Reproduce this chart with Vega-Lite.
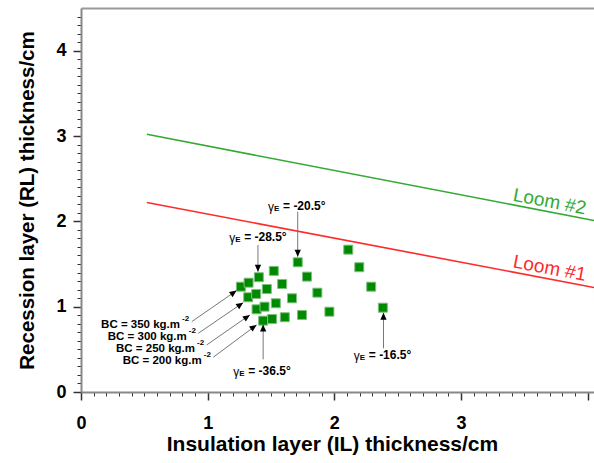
{
  "$schema": "https://vega.github.io/schema/vega-lite/v6.json",
  "width": 513,
  "height": 384,
  "autosize": {"type": "none"},
  "padding": {"left": 81, "top": 8, "right": 0, "bottom": 71},
  "background": "white",
  "config": {
    "view": {"stroke": null},
    "font": "Liberation Sans",
    "axis": {"grid": false, "labelFont": "Liberation Sans", "titleFont": "Liberation Sans"}
  },
  "resolve": {"axis": {"x": "independent", "y": "independent"}},
  "layer": [
    {
      "data": {"values": [
        {"loom": "Loom #1", "x": 0.52, "y": 2.22},
        {"loom": "Loom #1", "x": 4.05, "y": 1.225},
        {"loom": "Loom #2", "x": 0.52, "y": 3.02},
        {"loom": "Loom #2", "x": 4.05, "y": 2.01}
      ]},
      "mark": {"type": "line", "strokeWidth": 1.6},
      "encoding": {
        "x": {"field": "x", "type": "quantitative", "scale": {"domain": [0, 4.05], "nice": false, "zero": false},
          "axis": {"orient": "bottom",
            "values": [0,0.1,0.2,0.3,0.4,0.5,0.6,0.7,0.8,0.9,1,1.1,1.2,1.3,1.4,1.5,1.6,1.7,1.8,1.9,2,2.1,2.2,2.3,2.4,2.5,2.6,2.7,2.8,2.9,3,3.1,3.2,3.3,3.4,3.5,3.6,3.7,3.8,3.9,4],
            "labelExpr": "abs(datum.value - round(datum.value)) < 0.001 && datum.value < 3.5 ? format(datum.value, 'd') : ''",
            "title": "Insulation layer (IL) thickness/cm",
            "labelFontSize": 18, "labelFontWeight": "bold", "labelColor": "black", "labelPadding": 14, "labelFlush": false, "labelOverlap": false,
            "tickSize": {"condition": {"test": "abs(datum.value - round(datum.value)) < 0.001", "value": 8}, "value": 4},
            "tickWidth": {"condition": {"test": "abs(datum.value - round(datum.value)) < 0.001", "value": 1.5}, "value": 1},
            "tickColor": "#333", "domainColor": "#888", "domainWidth": 2,
            "titleFontSize": 21, "titleFontWeight": "bold", "titleColor": "black", "titlePadding": 1, "titleX": 251}},
        "y": {"field": "y", "type": "quantitative", "scale": {"domain": [0, 4.5], "nice": false, "zero": false},
          "axis": {"orient": "left",
            "values": [0,0.1,0.2,0.3,0.4,0.5,0.6,0.7,0.8,0.9,1,1.1,1.2,1.3,1.4,1.5,1.6,1.7,1.8,1.9,2,2.1,2.2,2.3,2.4,2.5,2.6,2.7,2.8,2.9,3,3.1,3.2,3.3,3.4,3.5,3.6,3.7,3.8,3.9,4,4.1,4.2,4.3,4.4],
            "labelExpr": "abs(datum.value - round(datum.value)) < 0.001 ? format(datum.value, 'd') : ''",
            "title": "Recession layer (RL) thickness/cm",
            "labelFontSize": 18, "labelFontWeight": "bold", "labelColor": "black", "labelPadding": 7, "labelFlush": false, "labelOverlap": false,
            "tickSize": {"condition": {"test": "abs(datum.value - round(datum.value)) < 0.001", "value": 8}, "value": 4},
            "tickWidth": {"condition": {"test": "abs(datum.value - round(datum.value)) < 0.001", "value": 1.5}, "value": 1},
            "tickColor": "#333", "domainColor": "#888", "domainWidth": 2,
            "titleFontSize": 20.5, "titleFontWeight": "bold", "titleColor": "black", "titlePadding": 18}},
        "color": {"field": "loom", "type": "nominal", "scale": {"domain": ["Loom #1", "Loom #2"], "range": ["#ff2a2a", "#33aa33"]}, "legend": null},
        "detail": {"field": "loom"}
      }
    },
    {
      "data": {"values": [
        {"loom": "Loom #1", "x": 3.70, "y": 1.45},
        {"loom": "Loom #2", "x": 3.70, "y": 2.231}
      ]},
      "mark": {"type": "text", "angle": 10.7, "fontSize": 19, "align": "center", "baseline": "middle"},
      "encoding": {
        "x": {"field": "x", "type": "quantitative", "scale": {"domain": [0, 4.05], "nice": false, "zero": false},
          "axis": {"orient": "top", "labels": false, "ticks": false, "title": null, "domainColor": "#999", "domainWidth": 2}},
        "y": {"field": "y", "type": "quantitative", "scale": {"domain": [0, 4.5], "nice": false, "zero": false}, "axis": null},
        "text": {"field": "loom"},
        "color": {"field": "loom", "type": "nominal", "scale": {"domain": ["Loom #1", "Loom #2"], "range": ["#ff1010", "#119911"]}, "legend": null}
      }
    },
    {
      "data": {"values": [
        {"bc": 350, "ge": -36.5, "x": 1.262, "y": 1.234},
        {"bc": 350, "ge": -32.5, "x": 1.323, "y": 1.281},
        {"bc": 350, "ge": -28.5, "x": 1.404, "y": 1.345},
        {"bc": 350, "ge": -24.5, "x": 1.522, "y": 1.419},
        {"bc": 350, "ge": -20.5, "x": 1.711, "y": 1.520},
        {"bc": 300, "ge": -36.5, "x": 1.320, "y": 1.110},
        {"bc": 300, "ge": -32.5, "x": 1.383, "y": 1.149},
        {"bc": 300, "ge": -28.5, "x": 1.467, "y": 1.207},
        {"bc": 300, "ge": -24.5, "x": 1.588, "y": 1.266},
        {"bc": 300, "ge": -20.5, "x": 1.784, "y": 1.352},
        {"bc": 250, "ge": -36.5, "x": 1.386, "y": 0.969},
        {"bc": 250, "ge": -32.5, "x": 1.449, "y": 1.000},
        {"bc": 250, "ge": -28.5, "x": 1.538, "y": 1.040},
        {"bc": 250, "ge": -24.5, "x": 1.666, "y": 1.098},
        {"bc": 250, "ge": -20.5, "x": 1.866, "y": 1.164},
        {"bc": 200, "ge": -36.5, "x": 1.438, "y": 0.836},
        {"bc": 200, "ge": -32.5, "x": 1.509, "y": 0.856},
        {"bc": 200, "ge": -28.5, "x": 1.609, "y": 0.876},
        {"bc": 200, "ge": -24.5, "x": 1.745, "y": 0.903},
        {"bc": 200, "ge": -20.5, "x": 1.961, "y": 0.941},
        {"bc": 350, "ge": -16.5, "x": 2.110, "y": 1.668},
        {"bc": 300, "ge": -16.5, "x": 2.197, "y": 1.462},
        {"bc": 250, "ge": -16.5, "x": 2.291, "y": 1.234},
        {"bc": 200, "ge": -16.5, "x": 2.383, "y": 0.988}
      ]},
      "mark": {"type": "point", "shape": "square", "filled": true, "size": 81, "color": "#008a00", "stroke": "#7fc07f", "strokeWidth": 1, "opacity": 1},
      "encoding": {
        "x": {"field": "x", "type": "quantitative", "scale": {"domain": [0, 4.05], "nice": false, "zero": false}, "axis": null},
        "y": {"field": "y", "type": "quantitative", "scale": {"domain": [0, 4.5], "nice": false, "zero": false}, "axis": null}
      }
    },
    {
      "data": {"values": [
        {"k": "bc350", "x": 0.874, "y": 0.824, "x2": 1.228, "y2": 1.188},
        {"k": "bc300", "x": 0.926, "y": 0.688, "x2": 1.280, "y2": 1.047},
        {"k": "bc250", "x": 0.992, "y": 0.551, "x2": 1.333, "y2": 0.903},
        {"k": "bc200", "x": 1.044, "y": 0.407, "x2": 1.386, "y2": 0.785},
        {"k": "g28", "x": 1.397, "y": 1.723, "x2": 1.397, "y2": 1.410},
        {"k": "g20", "x": 1.711, "y": 2.113, "x2": 1.711, "y2": 1.586},
        {"k": "g36", "x": 1.438, "y": 0.383, "x2": 1.438, "y2": 0.790},
        {"k": "g16", "x": 2.388, "y": 0.512, "x2": 2.388, "y2": 0.929}
      ]},
      "mark": {"type": "rule", "color": "#777777", "strokeWidth": 1},
      "encoding": {
        "x": {"field": "x", "type": "quantitative", "scale": {"domain": [0, 4.05], "nice": false, "zero": false}, "axis": null},
        "y": {"field": "y", "type": "quantitative", "scale": {"domain": [0, 4.5], "nice": false, "zero": false}, "axis": null},
        "x2": {"field": "x2"},
        "y2": {"field": "y2"}
      }
    },
    {
      "data": {"values": [
        {"k": "bc350", "x": 1.228, "y": 1.188},
        {"k": "bc300", "x": 1.280, "y": 1.047},
        {"k": "bc250", "x": 1.333, "y": 0.903},
        {"k": "bc200", "x": 1.386, "y": 0.785}
      ]},
      "mark": {"type": "point", "shape": "M0,0L-0.45,1L0.45,1Z", "filled": true, "size": 196, "color": "black", "opacity": 1, "angle": 55},
      "encoding": {
        "x": {"field": "x", "type": "quantitative", "scale": {"domain": [0, 4.05], "nice": false, "zero": false}, "axis": null},
        "y": {"field": "y", "type": "quantitative", "scale": {"domain": [0, 4.5], "nice": false, "zero": false}, "axis": null}
      }
    },
    {
      "data": {"values": [
        {"k": "g28", "x": 1.397, "y": 1.410},
        {"k": "g20", "x": 1.711, "y": 1.586}
      ]},
      "mark": {"type": "point", "shape": "M0,0L-0.45,1L0.45,1Z", "filled": true, "size": 196, "color": "black", "opacity": 1, "angle": 180},
      "encoding": {
        "x": {"field": "x", "type": "quantitative", "scale": {"domain": [0, 4.05], "nice": false, "zero": false}, "axis": null},
        "y": {"field": "y", "type": "quantitative", "scale": {"domain": [0, 4.5], "nice": false, "zero": false}, "axis": null}
      }
    },
    {
      "data": {"values": [
        {"k": "g36", "x": 1.438, "y": 0.790},
        {"k": "g16", "x": 2.388, "y": 0.929}
      ]},
      "mark": {"type": "point", "shape": "M0,0L-0.45,1L0.45,1Z", "filled": true, "size": 196, "color": "black", "opacity": 1, "angle": 0},
      "encoding": {
        "x": {"field": "x", "type": "quantitative", "scale": {"domain": [0, 4.05], "nice": false, "zero": false}, "axis": null},
        "y": {"field": "y", "type": "quantitative", "scale": {"domain": [0, 4.5], "nice": false, "zero": false}, "axis": null}
      }
    },
    {
      "data": {"values": [
        {"t": "= -28.5°", "x": 1.288, "y": 1.821},
        {"t": "= -20.5°", "x": 1.595, "y": 2.181},
        {"t": "= -36.5°", "x": 1.320, "y": 0.250},
        {"t": "= -16.5°", "x": 2.272, "y": 0.434}
      ]},
      "layer": [
        {
          "mark": {"type": "text", "align": "left", "baseline": "middle", "fontSize": 12, "fontWeight": "bold", "color": "black"},
          "encoding": {
            "x": {"field": "x", "type": "quantitative", "scale": {"domain": [0, 4.05], "nice": false, "zero": false}, "axis": null},
            "y": {"field": "y", "type": "quantitative", "scale": {"domain": [0, 4.5], "nice": false, "zero": false}, "axis": null},
            "text": {"field": "t"}
          }
        },
        {
          "mark": {"type": "text", "text": "γ", "align": "left", "baseline": "middle", "fontSize": 12, "dx": -15, "dy": 1, "color": "black"},
          "encoding": {
            "x": {"field": "x", "type": "quantitative", "scale": {"domain": [0, 4.05], "nice": false, "zero": false}, "axis": null},
            "y": {"field": "y", "type": "quantitative", "scale": {"domain": [0, 4.5], "nice": false, "zero": false}, "axis": null}
          }
        },
        {
          "mark": {"type": "text", "text": "E", "align": "left", "baseline": "middle", "fontSize": 8, "fontWeight": "bold", "dx": -9, "dy": 3, "color": "black"},
          "encoding": {
            "x": {"field": "x", "type": "quantitative", "scale": {"domain": [0, 4.05], "nice": false, "zero": false}, "axis": null},
            "y": {"field": "y", "type": "quantitative", "scale": {"domain": [0, 4.5], "nice": false, "zero": false}, "axis": null}
          }
        }
      ]
    },
    {
      "data": {"values": [
        {"t": "BC = 350 kg.m", "x": 0.782, "y": 0.791},
        {"t": "BC = 300 kg.m", "x": 0.835, "y": 0.647},
        {"t": "BC = 250 kg.m", "x": 0.900, "y": 0.503},
        {"t": "BC = 200 kg.m", "x": 0.953, "y": 0.359}
      ]},
      "layer": [
        {
          "mark": {"type": "text", "align": "right", "baseline": "middle", "fontSize": 11.5, "fontWeight": "bold", "color": "black"},
          "encoding": {
            "x": {"field": "x", "type": "quantitative", "scale": {"domain": [0, 4.05], "nice": false, "zero": false}, "axis": null},
            "y": {"field": "y", "type": "quantitative", "scale": {"domain": [0, 4.5], "nice": false, "zero": false}, "axis": null},
            "text": {"field": "t"}
          }
        },
        {
          "mark": {"type": "text", "text": "-2", "align": "left", "baseline": "middle", "fontSize": 8, "fontWeight": "bold", "dx": 2, "dy": -6, "color": "black"},
          "encoding": {
            "x": {"field": "x", "type": "quantitative", "scale": {"domain": [0, 4.05], "nice": false, "zero": false}, "axis": null},
            "y": {"field": "y", "type": "quantitative", "scale": {"domain": [0, 4.5], "nice": false, "zero": false}, "axis": null}
          }
        }
      ]
    }
  ]
}
